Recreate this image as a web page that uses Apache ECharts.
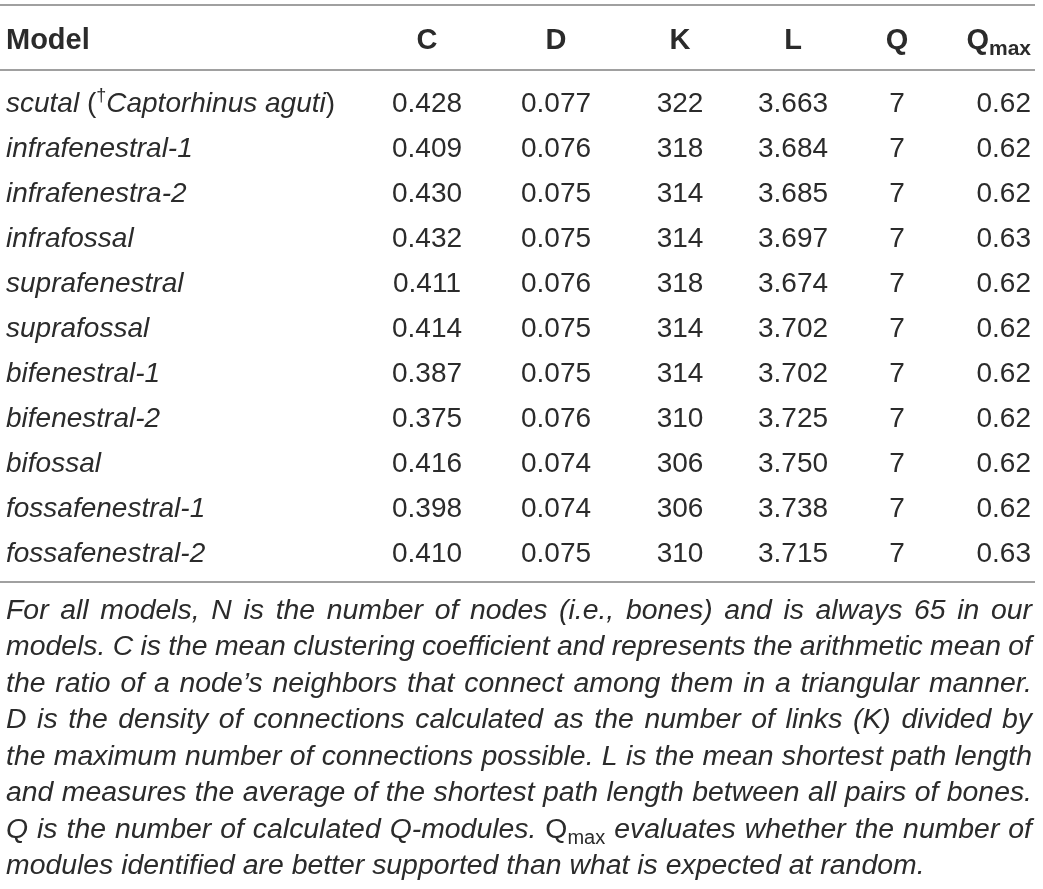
<!DOCTYPE html>
<html><head><meta charset="utf-8">
<script src="https://cdn.jsdelivr.net/npm/echarts@6/dist/echarts.min.js"></script>
<style>html,body{margin:0;padding:0;background:#fff}#c{width:1043px;height:889px}</style>
</head><body><div id="c"></div>
<script>
// ---- data ----
const headers = ['Model', 'C', 'D', 'K', 'L', 'Q', 'Q_max'];
const models = ['scutal (†Captorhinus aguti)', 'infrafenestral-1', 'infrafenestra-2', 'infrafossal',
  'suprafenestral', 'suprafossal', 'bifenestral-1', 'bifenestral-2', 'bifossal',
  'fossafenestral-1', 'fossafenestral-2'];
const valC = [0.428, 0.409, 0.430, 0.432, 0.411, 0.414, 0.387, 0.375, 0.416, 0.398, 0.410];
const valD = [0.077, 0.076, 0.075, 0.075, 0.076, 0.075, 0.075, 0.076, 0.074, 0.074, 0.075];
const valK = [322, 318, 314, 314, 318, 314, 314, 310, 306, 306, 310];
const valL = [3.663, 3.684, 3.685, 3.697, 3.674, 3.702, 3.702, 3.725, 3.750, 3.738, 3.715];
const valQ = [7, 7, 7, 7, 7, 7, 7, 7, 7, 7, 7];
const valQmax = [0.62, 0.62, 0.62, 0.63, 0.62, 0.62, 0.62, 0.62, 0.62, 0.62, 0.63];
const captionLines = [
  'For all models, N is the number of nodes (i.e., bones) and is always 65 in our',
  'models. C is the mean clustering coefficient and represents the arithmetic mean of',
  'the ratio of a node\u2019s neighbors that connect among them in a triangular manner.',
  'D is the density of connections calculated as the number of links (K) divided by',
  'the maximum number of connections possible. L is the mean shortest path length',
  'and measures the average of the shortest path length between all pairs of bones.',
  'Q is the number of calculated Q-modules. Q_max evaluates whether the number of',
  'modules identified are better supported than what is expected at random.'
];

// ---- layout / style ----
const FAMILY = '"Liberation Sans", Arial, Helvetica, sans-serif';
const COLOR = '#2b2b2b';
const RULE = '#a0a0a0';
const LEFT = 6, RIGHT = 1032;
const BODY = 28, HEAD = 29, CAP = 28.4;
const colCenters = [null, 427, 556, 680, 793, 897, null];
const QMAX_RIGHT = 1031;
const headY = 41, row0 = 104, rowH = 45;
const cap0 = 611, capH = 36.5;

const cv = document.createElement('canvas').getContext('2d');
function measure(seg) {
  cv.font = (seg.italic ? 'italic ' : 'normal ') + (seg.bold ? 'bold ' : 'normal ') + seg.size + 'px ' + FAMILY;
  return cv.measureText(seg.t).width;
}
function segsWidth(segs) { return segs.reduce((s, g) => s + measure(g), 0); }
const els = [];
function drawSegs(segs, x, y) {
  let cx = x;
  segs.forEach(g => {
    els.push({
      type: 'text', x: cx, y: y + (g.dy || 0), silent: true,
      style: {
        text: g.t, fontSize: g.size, fontFamily: FAMILY,
        fontStyle: g.italic ? 'italic' : 'normal', fontWeight: g.bold ? 'bold' : 'normal',
        fill: COLOR, align: 'left', verticalAlign: 'middle'
      }
    });
    cx += measure(g);
  });
  return cx;
}
// parse "Q_max" into main + subscript
function qSegs(word, size, bold, italic) {
  const segs = [];
  const i = word.indexOf('Q_max');
  if (i < 0) return [{ t: word, size, bold, italic }];
  if (i > 0) segs.push({ t: word.slice(0, i), size, bold, italic });
  segs.push({ t: 'Q', size, bold, italic: false });
  segs.push({ t: 'max', size: Math.round(size * 0.72), bold, italic: false, dy: size * 0.3 });
  const rest = word.slice(i + 5);
  if (rest) segs.push({ t: rest, size, bold, italic });
  return segs;
}
function modelSegs(name) {
  const segs = [];
  for (const ch of name) {
    let g;
    if (ch === '(' || ch === ')') g = { t: ch, size: BODY, italic: false };
    else if (ch === '†') g = { t: ch, size: 18, italic: false, dy: -8 };
    else g = { t: ch, size: BODY, italic: true };
    const last = segs[segs.length - 1];
    if (last && last.italic === g.italic && last.size === g.size && (last.dy || 0) === (g.dy || 0)) last.t += g.t;
    else segs.push(g);
  }
  return segs;
}

// rules
[5, 70, 582].forEach(y => els.push({
  type: 'line', silent: true, shape: { x1: 0, y1: y, x2: 1035, y2: y },
  style: { stroke: RULE, lineWidth: 2 }
}));

// header
headers.forEach((h, c) => {
  const segs = qSegs(h, HEAD, true, false);
  const w = segsWidth(segs);
  let x;
  if (c === 0) x = LEFT;
  else if (c === headers.length - 1) x = QMAX_RIGHT - w;
  else x = colCenters[c] - w / 2;
  drawSegs(segs, x, headY);
});

// body
const columns = [null, valC.map(v => v.toFixed(3)), valD.map(v => v.toFixed(3)), valK.map(String),
  valL.map(v => v.toFixed(3)), valQ.map(String), valQmax.map(v => v.toFixed(2))];
models.forEach((m, r) => {
  const y = row0 + r * rowH;
  drawSegs(modelSegs(m), LEFT, y);
  for (let c = 1; c < columns.length; c++) {
    const segs = [{ t: columns[c][r], size: BODY }];
    const w = segsWidth(segs);
    const x = c === columns.length - 1 ? QMAX_RIGHT - w : colCenters[c] - w / 2;
    drawSegs(segs, x, y);
  }
});

// caption (justified)
captionLines.forEach((line, i) => {
  const y = cap0 + i * capH;
  const words = line.split(' ').map(w => qSegs(w, CAP, false, true));
  const widths = words.map(segsWidth);
  const total = widths.reduce((a, b) => a + b, 0);
  const spaceW = measure({ t: ' ', size: CAP, italic: true });
  const justify = i < captionLines.length - 1;
  const gap = justify ? (RIGHT - LEFT - total) / (words.length - 1) : spaceW;
  let x = LEFT;
  words.forEach((segs, k) => { drawSegs(segs, x, y); x += widths[k] + gap; });
});

const chart = echarts.init(document.getElementById('c'), null, { renderer: 'canvas' });
chart.setOption({ backgroundColor: '#fff', animation: false, graphic: { elements: els } });
</script>
</body></html>
